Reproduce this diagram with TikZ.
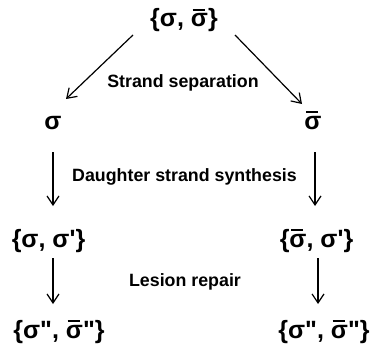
\documentclass[tikz,border=0pt]{standalone}
\usepackage{fontspec}
\newfontfamily\af{Liberation Sans}
\usetikzlibrary{arrows.meta}
\newcommand{\sbar}{\makebox[0pt][l]{\hspace{0.07em}\raisebox{0.64em}{\rule{0.48em}{0.07em}}}σ}
\newcommand{\pr}{\char"27\relax}
\newcommand{\dpr}{\char"22\relax}
\begin{document}
\begin{tikzpicture}[x=1pt,y=-1pt,
  settext/.style={font=\af\fontsize{25}{28}\selectfont\bfseries, inner sep=0pt, anchor=base},
  steplabel/.style={font=\af\fontsize{17.8}{21}\selectfont\bfseries, inner sep=0pt, anchor=base},
  arr/.style={-{Straight Barb[length=9pt,width=12pt]}, line width=1.2pt}]
\useasboundingbox (0,0) rectangle (375,353);
\node[settext] (top) at (184,27) {\{σ, \sbar\}};
\node[steplabel] (sep) at (183,88) {Strand separation};
\node[settext] (s) at (53,129) {σ};
\node[settext] (sb) at (313,129) {\sbar};
\node[steplabel] (syn) at (184.5,181) {Daughter strand synthesis};
\node[settext] (ls) at (48.5,247) {\{σ, σ\pr\}};
\node[settext] (rs) at (316.5,247) {\{\sbar, σ\pr\}};
\node[steplabel] (rep) at (185,286) {Lesion repair};
\node[settext] (lb) at (59,338) {\{σ\dpr, \sbar\dpr\}};
\node[settext] (rb) at (324,338) {\{σ\dpr, \sbar\dpr\}};
\coordinate (a1s) at (133,35); \coordinate (a1e) at (66,99);
\coordinate (a2s) at (235,35); \coordinate (a2e) at (302,104);
\coordinate (a3s) at (53,152); \coordinate (a3e) at (53,206);
\coordinate (a4s) at (315,152); \coordinate (a4e) at (315,206);
\coordinate (a5s) at (53,258); \coordinate (a5e) at (53,304);
\coordinate (a6s) at (318,258); \coordinate (a6e) at (318,304);
\draw[arr] (a1s) -- (a1e);
\draw[arr] (a2s) -- (a2e);
\draw[arr] (a3s) -- (a3e);
\draw[arr] (a4s) -- (a4e);
\draw[arr] (a5s) -- (a5e);
\draw[arr] (a6s) -- (a6e);
\end{tikzpicture}
\end{document}
